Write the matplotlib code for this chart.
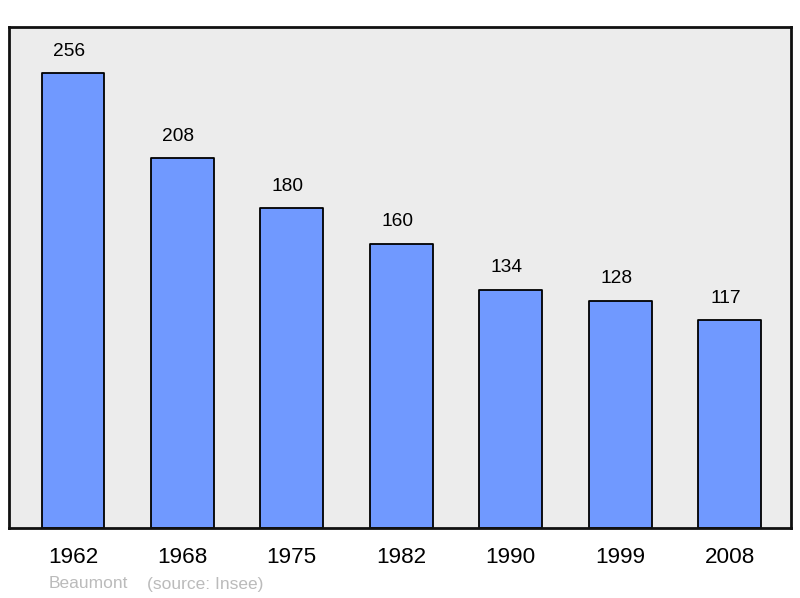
import matplotlib
matplotlib.use("Agg")
import matplotlib.pyplot as plt

plt.rcParams["font.family"] = ["Liberation Sans", "DejaVu Sans"]

years = ["1962", "1968", "1975", "1982", "1990", "1999", "2008"]
population = [256, 208, 180, 160, 134, 128, 117]

fig = plt.figure(figsize=(8, 5.98), dpi=100)
ax = fig.add_axes([9 / 800, 1 - 528 / 598, 782 / 800, 501 / 598])
ax.set_facecolor("#ececec")

x = list(range(len(years)))
ax.bar(x, population, width=0.575, color="#7099ff", edgecolor="black",
       linewidth=1.3, joinstyle="round", zorder=2)

for xi, v in zip(x, population):
    ax.annotate(str(v), (xi, v), xytext=(-4, 22), textcoords="offset pixels",
                ha="center", va="center", fontsize=13.8, color="black")

ax.set_xlim(-0.585, len(years) - 1 + 0.562)
ax.set_ylim(0, 282)
ax.set_xticks(x)
ax.set_xticklabels(years, fontsize=16.2)
ax.tick_params(axis="x", length=0, pad=14)
ax.set_yticks([])
for s in ax.spines.values():
    s.set_linewidth(2)
    s.set_color("#111111")

fig.text(49 / 800, 1 - 584 / 598, "Beaumont", fontsize=12.5, color="#bbbbbb",
         ha="left", va="center")
fig.text(147 / 800, 1 - 584 / 598, "(source: Insee)", fontsize=12.5, color="#bbbbbb",
         ha="left", va="center")

fig.savefig("out.png", dpi=100)
